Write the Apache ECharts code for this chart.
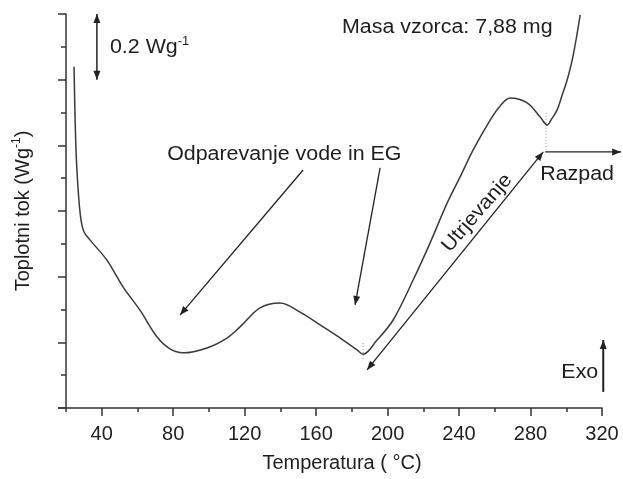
<!DOCTYPE html>
<html>
<head>
<meta charset="utf-8">
<script src="https://cdn.jsdelivr.net/npm/echarts@6.0.0/dist/echarts.min.js"></script>
<style>
  html, body { margin: 0; padding: 0; background: #fff; }
  #chart { width: 623px; height: 479px; }
</style>
</head>
<body>
<div id="chart"></div>
<script>
// DSC krivulja: temperatura (°C) in toplotni tok (relativno, Wg-1)
const temperature = [24.5, 25.6, 27.0, 28.4, 30.1, 33.4, 42.8, 51.9, 61.4, 71.0, 78.2, 85.5,
  98.9, 110.1, 117.4, 128.6, 139.8, 151.0, 163.9, 175.1, 182.9, 186.3, 194.1, 203.1,
  214.3, 223.8, 233.3, 240.6, 247.9, 257.4, 263.0, 268.6, 278.1, 285.4, 289.3, 292.1,
  294.9, 297.7, 300.5, 303.9, 307.8];
const heatFlow = [1.039, 0.786, 0.649, 0.573, 0.536, 0.512, 0.451, 0.369, 0.298, 0.216, 0.180, 0.168,
  0.183, 0.213, 0.247, 0.305, 0.320, 0.292, 0.247, 0.207, 0.177, 0.164, 0.207, 0.268,
  0.390, 0.503, 0.624, 0.704, 0.786, 0.877, 0.920, 0.944, 0.929, 0.886, 0.862, 0.883,
  0.908, 0.953, 0.999, 1.075, 1.197];
const xTickLabels = [40, 80, 120, 160, 200, 240, 280, 320];

const TEXT = '#1e1e1e';
const FONT = 'Liberation Sans, Arial, sans-serif';
const STRETCH = 1.07; // besedilo na izvirniku je nekoliko razpotegnjeno

const chart = echarts.init(document.getElementById('chart'), null, { renderer: 'canvas' });

chart.setOption({
  animation: false,
  backgroundColor: '#fff',
  grid: [
    { left: 66, right: 21, top: 14, bottom: 71 },
    // druga mreža samo za glavne oznake (40, 80, ... 320)
    { left: 101.7, right: 21, top: 14, bottom: 71 },
  ],
  xAxis: [{
    type: 'value', gridIndex: 0, min: 20, max: 320, interval: 20,
    axisLine: { lineStyle: { color: '#333', width: 1.5 } },
    axisTick: { length: 4, lineStyle: { color: '#333', width: 1.5 } },
    axisLabel: { show: false },
    splitLine: { show: false },
    name: 'Temperatura ( °C)', nameLocation: 'middle', nameGap: 45,
    nameTextStyle: { color: TEXT, fontSize: 20, fontFamily: FONT, padding: [0, 0, 0, 16] },
  }, {
    type: 'value', gridIndex: 1, min: 40, max: 320, interval: 40,
    axisLine: { show: false },
    axisTick: { length: 8, lineStyle: { color: '#333', width: 1.5 } },
    axisLabel: {
      margin: 16, color: TEXT, fontSize: 20, fontFamily: FONT,
      formatter: (v) => (xTickLabels.includes(v) ? String(v) : ''),
    },
    splitLine: { show: false },
  }],
  yAxis: [{
    type: 'value', gridIndex: 0, min: 0, max: 1.2, interval: 0.2,
    axisLine: { show: true, lineStyle: { color: '#333', width: 1.5 } },
    axisTick: { show: true, length: 8, lineStyle: { color: '#333', width: 1.5 } },
    minorTick: { show: true, splitNumber: 2, length: 5, lineStyle: { color: '#333', width: 1.5 } },
    axisLabel: { show: false },
    splitLine: { show: false },
    name: '{a|Toplotni tok (Wg}{s|-1}{a|)}', nameLocation: 'middle', nameGap: 31,
    nameTextStyle: {
      color: TEXT, fontFamily: FONT,
      rich: {
        a: { fontSize: 20, color: TEXT, fontFamily: FONT, lineHeight: 24 },
        s: { fontSize: 12, color: TEXT, fontFamily: FONT, verticalAlign: 'top', lineHeight: 24 },
      },
    },
  }, {
    type: 'value', gridIndex: 1, min: 0, max: 1.2, show: false,
  }],
  series: [{
    type: 'line',
    xAxisIndex: 0, yAxisIndex: 0,
    data: temperature.map((t, i) => [t, heatFlow[i]]),
    showSymbol: false,
    smooth: 0.35,
    lineStyle: { color: '#3a3a3a', width: 1.5 },
  }],
});

// --- opombe (v podatkovnih koordinatah) ---
const px = (p) => chart.convertToPixel({ seriesIndex: 0 }, p);

function arrow(a, b, heads, width) {
  const p = px(a), q = px(b);
  const w = width || 1.3;
  const els = [{
    type: 'line', silent: true,
    shape: { x1: p[0], y1: p[1], x2: q[0], y2: q[1] },
    style: { stroke: '#222', lineWidth: w },
  }];
  const head = (tip, from) => {
    const ang = Math.atan2(tip[1] - from[1], tip[0] - from[0]);
    const L = 9, W = 3.5;
    const dx = Math.cos(ang), dy = Math.sin(ang);
    return {
      type: 'polygon', silent: true,
      shape: { points: [
        [tip[0], tip[1]],
        [tip[0] - L * dx - W * dy, tip[1] - L * dy + W * dx],
        [tip[0] - L * dx + W * dy, tip[1] - L * dy - W * dx],
      ] },
      style: { fill: '#222' },
    };
  };
  if (heads.includes('end')) els.push(head(q, p));
  if (heads.includes('start')) els.push(head(p, q));
  return els;
}

function dotted(a, b) {
  const p = px(a), q = px(b);
  return {
    type: 'line', silent: true,
    shape: { x1: p[0], y1: p[1], x2: q[0], y2: q[1] },
    style: { stroke: '#999', lineWidth: 1, lineDash: [1, 2] },
  };
}

function label(pos, text, align, rot) {
  const p = px(pos);
  return {
    type: 'text', silent: true, x: p[0], y: p[1],
    scaleX: STRETCH, rotation: rot || 0,
    style: {
      text, fill: TEXT, font: '20px ' + FONT,
      align: align || 'left', verticalAlign: 'middle',
    },
  };
}

const scaleLabelPos = px([44.6, 1.097]);

chart.setOption({
  graphic: [].concat(
    // podaljšek osi x levo od osi y
    [{
      type: 'line', silent: true,
      shape: { x1: px([15.5, 0])[0], y1: px([15.5, 0])[1], x2: px([20, 0])[0], y2: px([20, 0])[1] },
      style: { stroke: '#333', lineWidth: 1.5 },
    }],
    arrow([37.3, 1.2], [37.3, 1.0], ['start', 'end'], 1.5),
    arrow([152.7, 0.725], [83.8, 0.283], ['end']),
    arrow([195.8, 0.731], [181.8, 0.314], ['end']),
    arrow([188.5, 0.116], [287.1, 0.780], ['start', 'end']),
    arrow([288.2, 0.780], [330.7, 0.780], ['end']),
    arrow([320.7, 0.049], [320.7, 0.207], ['end'], 2),
    [
      dotted([186.3, 0.198], [186.3, 0.146]),
      dotted([288.7, 0.899], [288.7, 0.786]),
      {
        type: 'text', silent: true, x: scaleLabelPos[0], y: scaleLabelPos[1], scaleX: STRETCH,
        style: {
          text: '{a|0.2 Wg}{s|-1}', align: 'left', verticalAlign: 'middle',
          rich: {
            a: { fontSize: 20, fill: TEXT, fontFamily: FONT, lineHeight: 24 },
            s: { fontSize: 12, fill: TEXT, fontFamily: FONT, verticalAlign: 'top', lineHeight: 24 },
          },
        },
      },
      label([174.5, 1.160], 'Masa vzorca: 7,88 mg'),
      label([76.6, 0.771], 'Odparevanje vode in EG'),
      label([250.1, 0.594], 'Utrjevanje', 'center', 49 * Math.PI / 180),
      label([285.4, 0.710], 'Razpad'),
      label([317.9, 0.107], 'Exo', 'right'),
    ]
  ),
});
</script>
</body>
</html>
